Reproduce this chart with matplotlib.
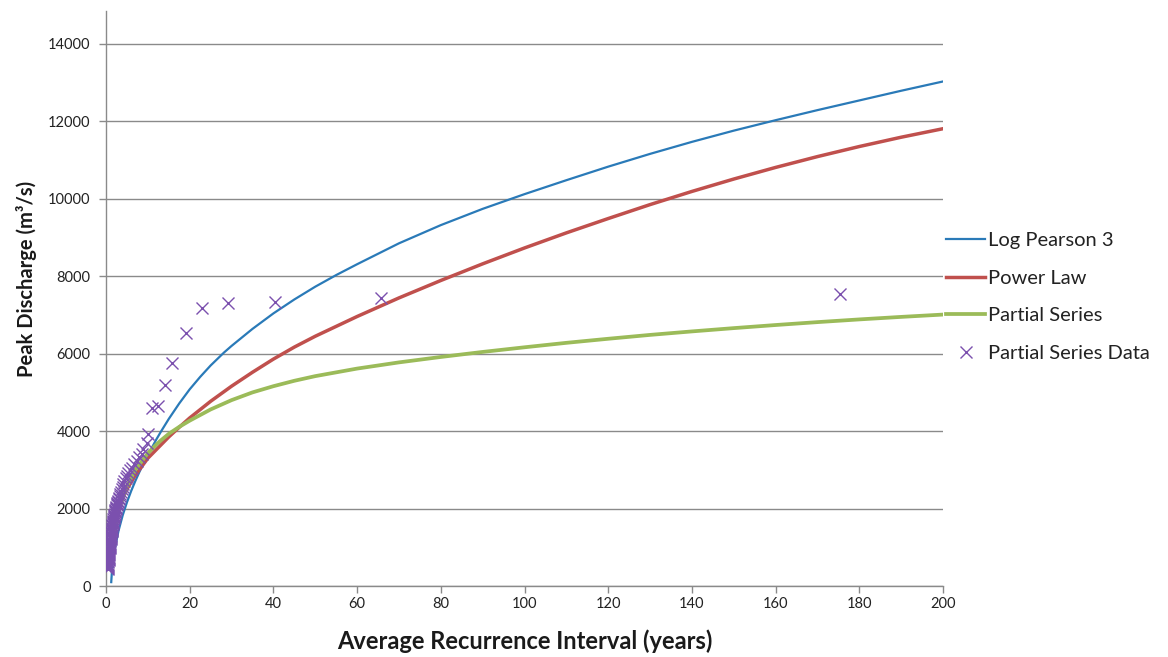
import matplotlib
matplotlib.use("Agg")
import matplotlib.pyplot as plt

plt.rcParams['font.family'] = ['Lato', 'DejaVu Sans']

# Return periods (years) and discharges (m^3/s) for each fitted curve
lp3_T = [1.25, 1.5, 2, 3, 4, 5, 6, 7, 8, 9, 10, 12, 13.2, 15, 17.5, 20, 22.5, 25, 28.2,
         30, 35, 40, 45, 50, 55, 60, 70, 80, 90, 100, 110, 120, 130, 140, 150, 160,
         170, 180, 190, 200]
lp3_Q = [100, 520, 900, 1430, 1830, 2160, 2450, 2710, 2950, 3170, 3380, 3780, 4000,
         4315, 4715, 5080, 5400, 5695, 6030, 6200, 6640, 7040, 7400, 7730, 8030, 8310,
         8850, 9320, 9740, 10120, 10480, 10830, 11160, 11470, 11760, 12030, 12290,
         12540, 12790, 13030]

pl_T = [1.0, 1.5, 2, 3, 4, 5, 7, 10, 15, 17.5, 20, 25, 30, 35, 40, 45, 50, 60, 70, 80,
        90, 100, 110, 120, 130, 140, 150, 160, 170, 180, 190, 200]
pl_Q = [700, 1150, 1500, 1980, 2270, 2500, 2860, 3300, 3850, 4100, 4340, 4770, 5160,
        5520, 5860, 6170, 6450, 6960, 7440, 7890, 8320, 8730, 9120, 9490, 9850, 10190,
        10510, 10810, 11090, 11350, 11590, 11810]

ps_T = [1.0, 1.5, 2, 3, 5, 7, 10, 12, 13, 15, 17.5, 20, 25, 30, 35, 40, 45, 50, 60, 70,
        80, 90, 100, 110, 120, 130, 140, 150, 160, 170, 180, 190, 200]
ps_Q = [600, 1090, 1450, 1960, 2580, 3000, 3430, 3650, 3750, 3930, 4110, 4270, 4560,
        4800, 5000, 5160, 5300, 5420, 5615, 5775, 5915, 6045, 6165, 6280, 6385, 6485,
        6575, 6660, 6740, 6815, 6885, 6950, 7010]

# Partial series observations (plotting-position return period, peak discharge)
obs_T = [0.40, 0.43, 0.46, 0.48, 0.50, 0.53, 0.55, 0.57, 0.60, 0.62, 0.64, 0.67, 0.70,
         0.72, 0.75, 0.78, 0.80, 0.83, 0.86, 0.88, 0.91, 0.94, 0.97, 1.00, 1.03, 1.06,
         1.09, 1.12, 1.15, 1.18, 1.22, 1.25, 1.29, 1.32, 1.36, 1.40, 1.44, 1.48, 1.52,
         1.56, 1.61, 1.66, 1.71, 1.76, 1.81, 1.86, 1.92, 1.98, 2.04, 2.10, 2.17, 2.24,
         2.31, 2.39, 2.47, 2.55, 2.64, 2.73, 2.83, 2.93, 3.04, 3.15, 3.27, 3.35, 3.55,
         3.75, 3.95, 4.1, 4.4, 4.7, 4.9, 5.3, 5.7, 6.2, 6.8, 7.3, 7.9, 8.5, 8.9, 9.7,
         10.0, 10.9, 12.4, 14.1, 15.8, 19.1, 23.0, 29.1, 40.4, 65.7, 175.4]
obs_Q = [430, 460, 490, 520, 550, 580, 610, 640, 670, 700, 730, 760, 790, 820, 850,
         880, 910, 940, 970, 1000, 1030, 1060, 1090, 1120, 1150, 1180, 1210, 1240, 1270,
         1300, 1330, 1360, 1390, 1420, 1450, 1480, 1510, 1540, 1570, 1600, 1630, 1660,
         1690, 1720, 1750, 1780, 1810, 1840, 1870, 1900, 1930, 1960, 1990, 2020, 2050,
         2080, 2110, 2140, 2170, 2200, 2240, 2280, 2320, 2380, 2440, 2500, 2560, 2640,
         2720, 2790, 2850, 2920, 2990, 3060, 3140, 3230, 3330, 3420, 3540, 3700, 3930,
         4600, 4650, 5190, 5770, 6530, 7180, 7310, 7330, 7440, 7530]

x_ticks = list(range(0, 201, 20))
y_ticks = list(range(0, 14001, 2000))

blue = '#2A7AB8'
red = '#C0504D'
green = '#9BBB59'
purple = '#7B50AE'
axis_grey = '#8A8A8A'

fig = plt.figure(figsize=(11.68, 6.57), dpi=100)
ax = fig.add_axes([106 / 1168, 1 - 586 / 657, (943 - 106) / 1168, (586 - 11) / 657])

ax.plot(lp3_T, lp3_Q, color=blue, lw=1.6, label='Log Pearson 3', zorder=3)
ax.plot(pl_T, pl_Q, color=red, lw=2.5, label='Power Law', zorder=3)
ax.plot(ps_T, ps_Q, color=green, lw=2.7, label='Partial Series', zorder=3)
ax.plot(obs_T, obs_Q, linestyle='none', marker='x', markersize=8.5, mew=1.0,
        color=purple, label='Partial Series Data', zorder=4)

ax.set_xlim(0, 200)
ax.set_ylim(0, 14850)
ax.set_xticks(x_ticks)
ax.set_yticks(y_ticks)
ax.yaxis.grid(True, color=axis_grey, lw=1.0)
ax.set_axisbelow(True)

for side in ('top', 'right'):
    ax.spines[side].set_visible(False)
for side in ('left', 'bottom'):
    ax.spines[side].set_color(axis_grey)
    ax.spines[side].set_linewidth(1.0)

ax.tick_params(axis='both', colors=axis_grey, length=5, width=1.0, direction='out',
               labelcolor='#222222', labelsize=10.5)
ax.tick_params(axis='x', pad=3)
ax.tick_params(axis='y', pad=6)

ax.set_xlabel('Average Recurrence Interval (years)', fontsize=17, fontweight='bold',
              color='#1a1a1a', labelpad=13)
ax.set_ylabel('Peak Discharge (m³/s)', fontsize=14.5, fontweight='bold',
              color='#1a1a1a')
ax.yaxis.set_label_coords((37 - 106) / 837, (586 - 279) / 575)

leg = ax.legend(loc='center left', bbox_to_anchor=(946 / 1168, 1 - 297 / 657),
                bbox_transform=fig.transFigure, frameon=False, fontsize=14.5,
                handlelength=1.95, handletextpad=0.15, labelspacing=1.03,
                borderaxespad=0, borderpad=0)
for t in leg.get_texts():
    t.set_color('#222222')

fig.savefig('out.png', dpi=100, facecolor='white')
